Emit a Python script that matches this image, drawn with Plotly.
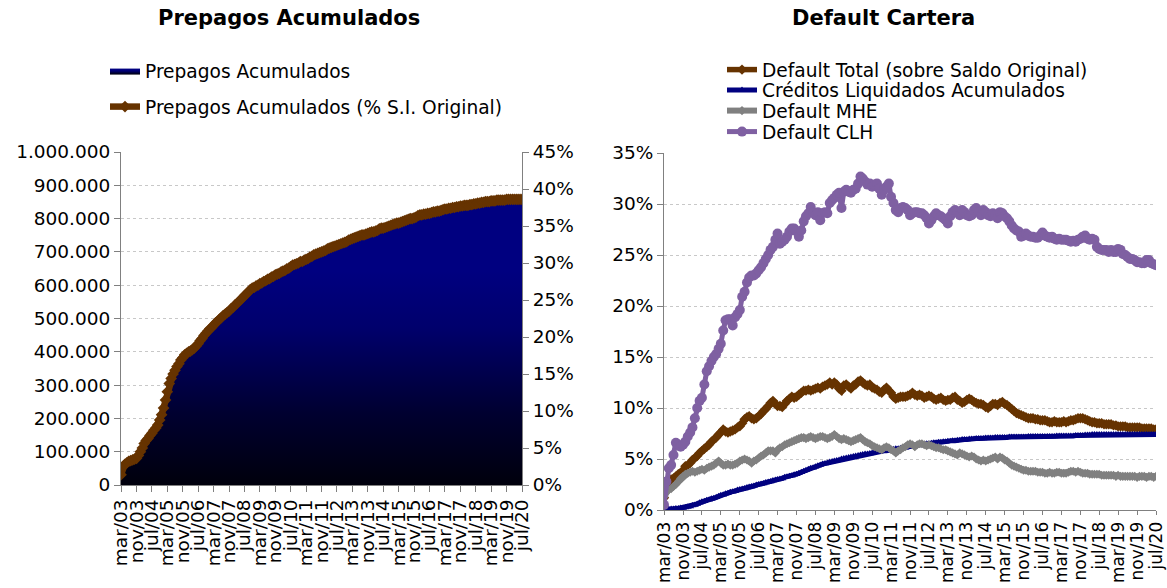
import pandas as pd
import plotly.graph_objects as go

# ---------------- data ----------------
months = pd.date_range("2003-03-01", periods=209, freq="MS")
mes_es = ["ene", "feb", "mar", "abr", "may", "jun", "jul", "ago", "sep", "oct", "nov", "dic"]
tick_vals = list(months[::8])
tick_text = [f"{mes_es[d.month - 1]}/{d.year % 100:02d}" for d in tick_vals]

# Prepagos acumulados (miles de UF)
prepagos_miles = [
    30, 55, 62, 66, 70, 74, 76, 78, 80, 88,
    100, 112, 125, 133, 140, 148, 155, 165, 172, 180,
    195, 210, 230, 255, 280, 305, 320, 333, 345, 355,
    365, 375, 383, 390, 395, 400, 403, 407, 412, 418,
    425, 433, 440, 448, 455, 462, 468, 474, 480, 486,
    492, 497, 502, 508, 513, 518, 523, 528, 534, 540,
    545, 550, 556, 562, 568, 574, 580, 586, 590, 594,
    598, 601, 604, 607, 610, 613, 617, 620, 624, 627,
    630, 633, 636, 639, 642, 645, 648, 652, 656, 659,
    662, 664, 667, 670, 672, 675, 678, 681, 684, 687,
    690, 693, 696, 698, 700, 703, 705, 708, 711, 714,
    716, 718, 720, 722, 724, 727, 729, 732, 735, 737,
    740, 742, 744, 746, 748, 750, 752, 753, 755, 757,
    759, 761, 763, 765, 768, 770, 772, 774, 776, 778,
    780, 782, 784, 786, 787, 789, 791, 793, 795, 797,
    799, 801, 803, 805, 808, 810, 812, 813, 814, 815,
    816, 818, 819, 820, 822, 823, 825, 826, 828, 829,
    831, 832, 833, 834, 835, 836, 837, 838, 839, 840,
    841, 842, 843, 844, 845, 846, 847, 848, 849, 850,
    851, 852, 853, 853, 854, 855, 855, 856, 856, 856,
    857, 857, 857, 857, 858, 858, 858, 858, 858,
]

# Prepagos acumulados (% S.I. Original)
prepagos_pct = [
    1.4, 2.5, 2.8, 3.0, 3.2, 3.3, 3.4, 3.5, 3.6, 4.0,
    4.5, 5.0, 5.6, 6.0, 6.3, 6.7, 7.0, 7.4, 7.7, 8.1,
    8.8, 9.5, 10.4, 11.5, 12.6, 13.7, 14.4, 15.0, 15.5, 16.0,
    16.4, 16.9, 17.2, 17.6, 17.8, 18.0, 18.1, 18.3, 18.5, 18.8,
    19.1, 19.5, 19.8, 20.2, 20.5, 20.8, 21.1, 21.3, 21.6, 21.9,
    22.1, 22.4, 22.6, 22.9, 23.1, 23.3, 23.5, 23.8, 24.0, 24.3,
    24.5, 24.8, 25.0, 25.3, 25.6, 25.8, 26.1, 26.4, 26.6, 26.7,
    26.9, 27.0, 27.2, 27.3, 27.5, 27.6, 27.8, 27.9, 28.1, 28.2,
    28.4, 28.5, 28.6, 28.8, 28.9, 29.0, 29.2, 29.3, 29.5, 29.7,
    29.8, 29.9, 30.0, 30.2, 30.2, 30.4, 30.5, 30.6, 30.8, 30.9,
    31.1, 31.2, 31.3, 31.4, 31.5, 31.6, 31.7, 31.9, 32.0, 32.1,
    32.2, 32.3, 32.4, 32.5, 32.6, 32.7, 32.8, 32.9, 33.1, 33.2,
    33.3, 33.4, 33.5, 33.6, 33.7, 33.8, 33.8, 33.9, 34.0, 34.1,
    34.2, 34.2, 34.3, 34.4, 34.6, 34.7, 34.7, 34.8, 34.9, 35.0,
    35.1, 35.2, 35.3, 35.4, 35.4, 35.5, 35.6, 35.7, 35.8, 35.9,
    36.0, 36.0, 36.1, 36.2, 36.4, 36.5, 36.5, 36.6, 36.6, 36.7,
    36.7, 36.8, 36.9, 36.9, 37.0, 37.0, 37.1, 37.2, 37.3, 37.3,
    37.4, 37.4, 37.5, 37.5, 37.6, 37.6, 37.7, 37.7, 37.8, 37.8,
    37.8, 37.9, 37.9, 38.0, 38.0, 38.1, 38.1, 38.2, 38.2, 38.3,
    38.3, 38.3, 38.4, 38.4, 38.4, 38.5, 38.5, 38.5, 38.5, 38.5,
    38.6, 38.6, 38.6, 38.6, 38.6, 38.6, 38.6, 38.6, 38.6,
]

# Default Total (sobre Saldo Original), %
default_total = [
    1.2, 2.1, 2.6, 3.0, 3.1, 3.3, 3.5, 3.6, 3.9, 4.3,
    4.4, 4.6, 4.9, 5.1, 5.3, 5.6, 5.8, 6.0, 6.2, 6.4,
    6.7, 6.9, 7.1, 7.4, 7.6, 7.9, 7.7, 7.6, 7.7, 7.8,
    7.9, 8.1, 8.2, 8.5, 8.9, 9.1, 9.2, 9.0, 8.9, 9.0,
    9.2, 9.4, 9.7, 9.9, 10.2, 10.5, 10.7, 10.4, 10.2, 10.2,
    10.1, 10.4, 10.7, 10.9, 11.1, 11.0, 11.1, 11.3, 11.5, 11.7,
    11.7, 11.8, 11.7, 11.8, 11.9, 12.0, 11.9, 12.1, 12.2, 12.3,
    12.5, 12.3, 12.5, 12.3, 11.9, 11.7, 12.2, 12.3, 12.1, 11.9,
    12.2, 12.3, 12.6, 12.7, 12.5, 12.3, 12.2, 12.3, 12.0, 11.9,
    11.8, 11.6, 11.5, 11.8, 12.0, 11.7, 11.5, 11.1, 10.9, 11.0,
    11.1, 11.1, 11.1, 11.2, 11.3, 11.5, 11.3, 11.2, 11.3, 11.2,
    11.0, 11.1, 11.2, 11.1, 10.9, 10.8, 10.9, 11.0, 10.8, 10.7,
    10.8, 10.8, 11.0, 11.1, 10.8, 10.7, 10.5, 10.6, 10.8, 10.9,
    10.8, 10.6, 10.5, 10.4, 10.4, 10.3, 10.1, 10.0, 10.2, 10.4,
    10.4, 10.3, 10.5, 10.6, 10.4, 10.3, 10.1, 9.9, 9.7, 9.5,
    9.4, 9.3, 9.2, 9.1, 9.0, 9.0, 9.0, 8.9, 8.9, 8.8,
    8.8, 8.8, 8.7, 8.6, 8.6, 8.7, 8.6, 8.6, 8.6, 8.7,
    8.6, 8.7, 8.8, 8.8, 8.9, 9.0, 9.0, 9.0, 8.9, 8.8,
    8.7, 8.6, 8.6, 8.5, 8.5, 8.5, 8.4, 8.4, 8.4, 8.4,
    8.3, 8.3, 8.2, 8.2, 8.2, 8.2, 8.1, 8.1, 8.1, 8.1,
    8.1, 8.1, 8.0, 8.0, 8.0, 8.0, 8.0, 7.9, 7.9,
]

# Créditos Liquidados Acumulados, %
creditos_liq = [
    0.0, 0.05, 0.1, 0.1, 0.1, 0.15, 0.15, 0.2, 0.2, 0.25,
    0.3, 0.35, 0.45, 0.5, 0.6, 0.7, 0.8, 0.85, 0.95, 1.0,
    1.1, 1.15, 1.25, 1.35, 1.45, 1.5, 1.6, 1.65, 1.75, 1.8,
    1.85, 1.95, 2.0, 2.05, 2.1, 2.2, 2.25, 2.3, 2.35, 2.45,
    2.5, 2.55, 2.6, 2.7, 2.75, 2.8, 2.9, 2.95, 3.0, 3.05,
    3.1, 3.2, 3.25, 3.3, 3.35, 3.45, 3.5, 3.6, 3.7, 3.8,
    3.9, 4.0, 4.1, 4.15, 4.25, 4.35, 4.4, 4.5, 4.55, 4.6,
    4.7, 4.75, 4.8, 4.85, 4.9, 5.0, 5.05, 5.1, 5.15, 5.2,
    5.25, 5.3, 5.35, 5.4, 5.45, 5.5, 5.5, 5.55, 5.6, 5.65,
    5.65, 5.7, 5.75, 5.8, 5.8, 5.85, 5.9, 5.95, 6.0, 6.0,
    6.05, 6.1, 6.1, 6.15, 6.2, 6.25, 6.3, 6.35, 6.4, 6.4,
    6.45, 6.5, 6.5, 6.55, 6.6, 6.6, 6.65, 6.65, 6.7, 6.7,
    6.75, 6.75, 6.8, 6.8, 6.85, 6.85, 6.9, 6.9, 6.9, 6.95,
    6.95, 6.95, 7.0, 7.0, 7.0, 7.0, 7.05, 7.05, 7.05, 7.05,
    7.1, 7.1, 7.1, 7.1, 7.1, 7.1, 7.15, 7.15, 7.15, 7.15,
    7.15, 7.15, 7.15, 7.15, 7.2, 7.2, 7.2, 7.2, 7.2, 7.2,
    7.2, 7.2, 7.2, 7.2, 7.2, 7.2, 7.25, 7.25, 7.25, 7.25,
    7.25, 7.25, 7.25, 7.25, 7.3, 7.3, 7.3, 7.3, 7.35, 7.35,
    7.35, 7.4, 7.4, 7.4, 7.4, 7.4, 7.4, 7.4, 7.4, 7.4,
    7.4, 7.4, 7.4, 7.4, 7.4, 7.4, 7.4, 7.4, 7.4, 7.4,
    7.4, 7.4, 7.4, 7.4, 7.4, 7.4, 7.4, 7.4, 7.4,
]

# Default MHE, %
default_mhe = [
    1.3, 1.8, 2.0, 2.1, 2.3, 2.5, 2.8, 3.1, 3.3, 3.5,
    3.6, 3.7, 3.8, 3.7, 3.8, 3.9, 4.0, 3.9, 4.1, 4.2,
    4.3, 4.4, 4.6, 4.8, 4.6, 4.4, 4.4, 4.5, 4.4, 4.4,
    4.5, 4.6, 4.8, 4.9, 5.0, 4.9, 4.8, 4.6, 4.8, 4.9,
    5.1, 5.3, 5.4, 5.6, 5.8, 5.8, 5.8, 5.6, 5.9, 6.1,
    6.2, 6.4, 6.5, 6.6, 6.7, 6.8, 6.9, 7.0, 7.1, 7.1,
    7.0, 7.1, 7.2, 7.1, 7.0, 7.1, 7.2, 7.2, 7.1, 7.0,
    7.1, 7.2, 7.4, 7.2, 7.0, 6.9, 7.0, 6.9, 6.8, 6.7,
    6.8, 6.9, 7.0, 7.1, 6.9, 6.7, 6.6, 6.5, 6.3, 6.2,
    6.1, 6.0, 5.9, 6.1, 6.2, 6.1, 5.9, 5.8, 5.6, 5.8,
    5.9, 6.1, 6.2, 6.4, 6.5, 6.4, 6.2, 6.4, 6.5, 6.5,
    6.4, 6.3, 6.4, 6.3, 6.2, 6.1, 6.1, 6.0, 5.9, 5.9,
    5.8, 5.7, 5.6, 5.5, 5.4, 5.6, 5.5, 5.4, 5.3, 5.2,
    5.3, 5.2, 5.0, 4.9, 4.8, 4.9, 4.8, 4.9, 5.0, 5.1,
    5.2, 5.0, 5.2, 5.1, 4.9, 4.8, 4.6, 4.4, 4.3, 4.2,
    4.1, 4.0, 3.9, 3.9, 3.8, 3.8, 3.8, 3.8, 3.7, 3.7,
    3.7, 3.6, 3.6, 3.7, 3.6, 3.6, 3.7, 3.7, 3.6, 3.6,
    3.6, 3.7, 3.8, 3.8, 3.7, 3.8, 3.7, 3.6, 3.6, 3.6,
    3.5, 3.5, 3.5, 3.5, 3.5, 3.4, 3.4, 3.4, 3.4, 3.4,
    3.4, 3.3, 3.4, 3.3, 3.3, 3.3, 3.3, 3.3, 3.3, 3.3,
    3.2, 3.3, 3.3, 3.3, 3.2, 3.3, 3.3, 3.2, 3.3,
]

# Default CLH, %
default_clh = [
    0.5, 2.8, 4.1, 4.4, 5.4, 6.6, 6.4, 6.2, 6.4, 6.7,
    7.2, 7.6, 8.1, 9.0, 10.0, 10.7, 11.0, 12.3, 13.6, 14.1,
    14.6, 15.0, 15.3, 15.8, 16.3, 17.6, 18.6, 18.7, 18.7, 18.1,
    18.9, 19.2, 19.6, 20.9, 21.4, 22.3, 22.8, 23.0, 23.0, 23.2,
    23.5, 23.8, 24.2, 24.6, 25.0, 25.5, 25.8, 26.5, 27.1, 26.1,
    26.3, 26.5, 26.8, 27.3, 27.6, 27.6, 27.3, 26.8, 27.4, 28.3,
    28.8, 29.1, 29.7, 29.2, 28.9, 29.2, 28.4, 29.1, 29.2, 29.1,
    30.1, 30.4, 30.6, 30.9, 31.1, 29.6, 31.2, 31.4, 31.2, 31.1,
    31.4, 31.5, 32.0, 32.7, 32.5, 32.2, 31.9, 32.0, 31.7, 31.9,
    32.0, 31.5, 30.9, 31.4, 31.7, 32.0, 30.7, 30.1, 29.4, 29.2,
    29.6, 29.7, 29.6, 29.4, 28.9, 29.1, 29.2, 29.2, 29.1, 29.1,
    28.9, 28.6, 28.1, 28.4, 28.8, 29.1, 28.9, 28.8, 28.6, 28.4,
    28.1, 28.8, 29.2, 29.4, 29.2, 28.9, 29.4, 29.2, 28.9, 28.8,
    28.9, 29.4, 29.6, 29.2, 28.9, 29.4, 29.2, 28.9, 28.8, 29.1,
    28.9, 28.6, 29.2, 29.1, 28.8, 28.6, 28.3, 27.9, 27.6, 27.4,
    27.3, 26.8, 26.9, 27.1, 26.9, 26.8, 26.8, 26.7, 26.7, 26.9,
    27.2, 26.9, 26.8, 26.7, 26.8, 26.6, 26.5, 26.6, 26.5, 26.5,
    26.5, 26.4, 26.3, 26.4, 26.3, 26.5, 26.6, 26.8, 26.9, 26.6,
    26.5, 26.6, 26.5, 25.8, 25.6, 25.5, 25.5, 25.5, 25.3, 25.5,
    25.3, 25.3, 25.6, 25.5, 25.1, 25.0, 24.8, 24.6, 24.6, 24.5,
    24.3, 24.3, 24.2, 24.2, 24.5, 24.5, 24.2, 24.1, 24.0,
]

prepagos = [v * 1000 for v in prepagos_miles]

# ---------------- styling ----------------
W, H = 1167, 588
FONT = "DejaVu Sans"
BROWN = "#663300"
NAVY = "#000080"
GRAY = "#808080"
PURPLE = "#7F60A2"
AXIS = "#808080"
GRID = "#c8c8c8"


def px_x(p):
    return p / W


def px_y(p):
    return 1 - p / H


def xs(series):
    return list(months[: len(series)])


fig = go.Figure()

fig.add_trace(go.Scatter(
    x=xs(prepagos), y=prepagos, name="Prepagos Acumulados",
    mode="lines", line=dict(width=0, color=NAVY), fill="tozeroy",
    fillgradient=dict(type="vertical",
                      colorscale=[[0, "#00000c"], [0.25, "#000030"], [0.55, "#00006c"], [0.75, "#000080"], [1, "#000080"]]),
    xaxis="x", yaxis="y", legend="legend", hoverinfo="skip",
))
fig.add_trace(go.Scatter(
    x=xs(prepagos_pct), y=prepagos_pct, name="Prepagos Acumulados (% S.I. Original)",
    mode="lines+markers", line=dict(width=6.5, color=BROWN),
    marker=dict(symbol="diamond", size=9, color=BROWN),
    xaxis="x", yaxis="y2", legend="legend2",
))

right_series = [
    ("Default Total (sobre Saldo Original)", default_total, BROWN, "diamond", 8, 5.5, "legend3"),
    ("Créditos Liquidados Acumulados", creditos_liq, NAVY, "triangle-up", 7, 5, "legend4"),
    ("Default MHE", default_mhe, GRAY, "diamond", 7, 6, "legend5"),
    ("Default CLH", default_clh, PURPLE, "circle", 10, 5, "legend6"),
]
for name, ys, col, sym, msize, lw, leg in right_series:
    fig.add_trace(go.Scatter(
        x=xs(ys), y=ys, name=name, mode="lines+markers",
        line=dict(width=lw, color=col),
        marker=dict(symbol=sym, size=msize, color=col),
        xaxis="x2", yaxis="y3", legend=leg,
    ))

tickfont = dict(family=FONT, size=18.5, color="black")
xcommon = dict(
    type="date", range=[months[0], months[-1]], tickmode="array",
    tickvals=tick_vals, ticktext=tick_text, tickangle=-90,
    ticks="outside", tickcolor=AXIS, showline=True, linecolor=AXIS,
    linewidth=1, showgrid=False, zeroline=False, automargin=False,
)
ycommon = dict(ticks="outside", ticklen=6, tickcolor=AXIS, showline=True, linecolor=AXIS,
               zeroline=False, tickfont=tickfont, automargin=False)
fig.update_layout(
    width=W, height=H, margin=dict(l=0, r=0, t=0, b=0, autoexpand=False),
    paper_bgcolor="white", plot_bgcolor="white",
    separators=",.",
    font=dict(family=FONT, size=18.5, color="black"),
    xaxis=dict(domain=[px_x(121), px_x(522)], anchor="y", ticklen=6, tickfont=tickfont, **xcommon),
    yaxis=dict(domain=[px_y(485), px_y(152)], range=[0, 1000000], dtick=100000,
               tickformat=",d", showgrid=True, gridcolor=GRID, griddash="dot", **ycommon),
    yaxis2=dict(overlaying="y", anchor="x", side="right", range=[0, 45], dtick=5,
                ticksuffix="%", showgrid=False, **ycommon),
    xaxis2=dict(domain=[px_x(664), px_x(1156)], anchor="y3", ticklen=4,
                tickfont=dict(family=FONT, size=17, color="black"), **xcommon),
    yaxis3=dict(domain=[px_y(510), px_y(153)], anchor="x2", range=[0, 35], dtick=5,
                ticksuffix="%", showgrid=True, gridcolor=GRID, griddash="dot", **ycommon),
    showlegend=True,
)

legfont = dict(family=FONT, size=18.6, color="black")
leg_pos = {
    "legend": (105, 71),
    "legend2": (105, 107),
    "legend3": (722, 70),
    "legend4": (722, 90.5),
    "legend5": (722, 111),
    "legend6": (722, 132),
}
for key, (lx, ly) in leg_pos.items():
    fig.update_layout({key: dict(x=px_x(lx), y=px_y(ly), xanchor="left", yanchor="middle",
                                 bgcolor="rgba(0,0,0,0)", font=legfont, borderwidth=0)})

fig.add_annotation(x=px_x(289), y=px_y(18), xref="paper", yref="paper",
                   xanchor="center", yanchor="middle",
                   text="<b>Prepagos Acumulados</b>", showarrow=False,
                   font=dict(family=FONT, size=21, color="black"))
fig.add_annotation(x=px_x(883), y=px_y(18), xref="paper", yref="paper",
                   xanchor="center", yanchor="middle",
                   text="<b>Default Cartera</b>", showarrow=False,
                   font=dict(family=FONT, size=21, color="black"))

fig.write_html("out.html", config={"displayModeBar": False},
               post_script="document.body.style.margin='0';")
